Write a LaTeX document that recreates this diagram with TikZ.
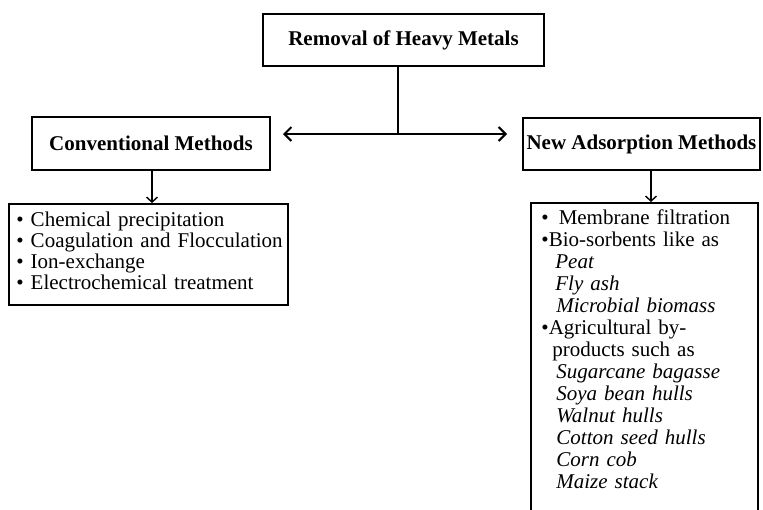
\documentclass[tikz,border=0pt]{standalone}
\usepackage{fontspec}
\setmainfont{Liberation Serif}
\usetikzlibrary{arrows.meta}
\begin{document}
\begin{tikzpicture}[x=1pt,y=-1pt,
  hbox/.style={draw, line width=1.8pt, font=\fontsize{21}{21}\selectfont\bfseries, inner sep=0pt},
  listbox/.style={draw, line width=1.8pt, anchor=north west, align=left},
  downarr/.style={line width=1.4pt, -{Straight Barb[length=5pt,width=11pt]}},
  wire/.style={line width=1.8pt},
  dblarr/.style={line width=2pt, {Straight Barb[length=7pt,width=14pt]}-{Straight Barb[length=7pt,width=14pt]}}
]
\useasboundingbox (0,0) rectangle (763,509);
\node[hbox, minimum width=281pt, minimum height=52pt] (top) at (403.5,40) {Removal of Heavy Metals};
\node[hbox, minimum width=238pt, minimum height=53pt] (conv) at (151,143.5) {Conventional Methods};
\node[hbox, minimum width=237pt, minimum height=52pt] (new) at (641.5,144) {New Adsorption Methods};

\node[listbox, font=\fontsize{21}{21}\selectfont, inner xsep=7.5pt, inner ysep=7.7pt, text width=264pt] (llist) at (8,203)
{\mbox{• Chemical precipitation}\\
 \mbox{• Coagulation and Flocculation}\\
 \mbox{• Ion-exchange}\\
 \mbox{• Electrochemical treatment}\rule[-8pt]{0pt}{8pt}};

\node[listbox, font=\fontsize{21}{22}\selectfont, inner xsep=10.5pt, inner ysep=6.7pt, text width=206pt] (rlist) at (530,202)
{\mbox{•\hspace{10pt}Membrane filtration}\\
 \mbox{•Bio-sorbents like as}\\
 \hspace*{14pt}\textit{Peat}\\
 \hspace*{14pt}\textit{Fly ash}\\
 \hspace*{15pt}\textit{Microbial biomass}\\
 \mbox{•Agricultural by-}\\
 \hspace*{11pt}\mbox{products such as}\\
 \hspace*{15pt}\textit{Sugarcane bagasse}\\
 \hspace*{15pt}\textit{Soya bean hulls}\\
 \hspace*{15pt}\textit{Walnut hulls}\\
 \hspace*{15pt}\textit{Cotton seed hulls}\\
 \hspace*{15pt}\textit{Corn cob}\\
 \hspace*{15pt}\textit{Maize stack}\rule[-30pt]{0pt}{30pt}};

\coordinate (hub) at (398,134);
\coordinate (L) at (283,134);
\coordinate (R) at (507,134);
\draw[wire] ([xshift=-5.5pt]top.south) -- (hub);
\draw[dblarr] (L) -- (R);
\draw[downarr] ([xshift=1pt]conv.south) -- ([xshift=1pt]conv.south |- llist.north);
\draw[downarr] ([xshift=9.5pt]new.south) -- ([xshift=9.5pt]new.south |- rlist.north);
\end{tikzpicture}
\end{document}
